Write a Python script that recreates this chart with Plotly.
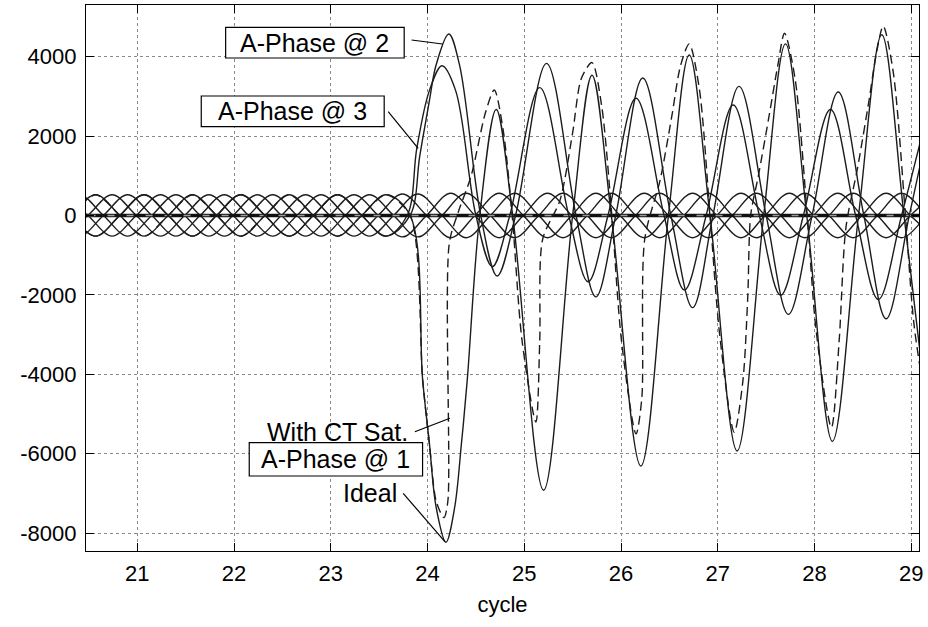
import plotly.graph_objects as go

# ------------------------------------------------------------------
# Data (cycle, current in A)
# ------------------------------------------------------------------
x_ticks = [21, 22, 23, 24, 25, 26, 27, 28, 29]
y_ticks = [-8000, -6000, -4000, -2000, 0, 2000, 4000]
y_tick_labels = ["-8000", "-6000", "-4000", "-2000", "0", "2000", "4000"]

# pre-fault A-phase load current (key points: zeros and extremes)
t_A_pre = [20.32, 20.57, 20.82, 21.07, 21.32, 21.57, 21.82, 22.07, 22.32, 22.57,
           22.82, 23.07, 23.32, 23.57]
i_A23_pre = [0, -520, 0, 520, 0, -520, 0, 520, 0, -520, 0, 520, 0, -520]
i_A1_pre = [0, 520, 0, -520, 0, 520, 0, -520, 0, 520, 0, -520, 0, 520]

# B-phase (locations 2/3) and location 1 (opposite polarity)
t_B = [20.15, 20.40, 20.65, 20.90, 21.15, 21.40, 21.65, 21.90, 22.15, 22.40,
       22.65, 22.90, 23.15, 23.40, 23.65, 23.90, 24.15, 24.40, 24.65, 24.90,
       25.15, 25.40, 25.65, 25.90, 26.15, 26.40, 26.65, 26.90, 27.15, 27.40,
       27.65, 27.90, 28.15, 28.40, 28.65, 28.90, 29.15]
i_B23 = [0, 520, 0, -520, 0, 520, 0, -520, 0, 520, 0, -520, 0, 520, 0, -540,
         0, 560, 0, -560, 0, 560, 0, -560, 0, 560, 0, -560, 0, 560, 0, -560,
         0, 560, 0, -560, 0]
i_B1 = [0, -520, 0, 520, 0, -520, 0, 520, 0, -520, 0, 520, 0, -520, 0, 540,
        0, -560, 0, 560, 0, -560, 0, 560, 0, -560, 0, 560, 0, -560, 0, 560,
        0, -560, 0, 560, 0]

# C-phase
t_C = [20.24, 20.49, 20.74, 20.99, 21.24, 21.49, 21.74, 21.99, 22.24, 22.49,
       22.74, 22.99, 23.24, 23.49, 23.74, 23.99, 24.24, 24.49, 24.74, 24.99,
       25.24, 25.49, 25.74, 25.99, 26.24, 26.49, 26.74, 26.99, 27.24, 27.49,
       27.74, 27.99, 28.24, 28.49, 28.74, 28.99, 29.24]
i_C23 = [-520, 0, 520, 0, -520, 0, 520, 0, -520, 0, 520, 0, -520, 0, 540, 0,
         -560, 0, 560, 0, -560, 0, 560, 0, -560, 0, 560, 0, -560, 0, 560, 0,
         -560, 0, 560, 0, -560]
i_C1 = [520, 0, -520, 0, 520, 0, -520, 0, 520, 0, -520, 0, 520, 0, -540, 0,
        560, 0, -560, 0, 560, 0, -560, 0, 560, 0, -560, 0, 560, 0, -560, 0,
        560, 0, -560, 0, 560]

# residual / other quantities sitting on zero
t_zero = [20.3, 29.2]
i_zero = [0, 0]

# A-Phase @ 2 fault current
t_A2_fault = [23.82, 23.92, 24.02, 24.09, 24.22, 24.33, 24.55, 24.72, 24.91,
              25.23, 25.535, 25.74, 25.945, 26.225, 26.515, 26.74, 26.95,
              27.22, 27.50, 27.73, 27.975, 28.245, 28.51, 28.74, 28.98, 29.245]
i_A2_fault = [0, 1500, 2900, 3800, 4570, 3800, 0, -1525, 0,
              3830, 0, -2050, 0, 3460, 0, -2320, 0,
              3250, 0, -2490, 0, 3110, 0, -2600, 0, 3000]

# A-Phase @ 3 fault current
t_A3_fault = [23.79, 23.89, 24.02, 24.15, 24.29, 24.50, 24.67, 24.85, 25.16,
              25.46, 25.66, 25.865, 26.155, 26.445, 26.655, 26.88, 27.16,
              27.43, 27.65, 27.885, 28.165, 28.425, 28.66, 28.90, 29.17]
i_A3_fault = [0, 1700, 3150, 3770, 3150, 0, -1290, 0, 3220,
              0, -1670, 0, 2950, 0, -1880, 0, 2780,
              0, -2010, 0, 2670, 0, -2115, 0, 2600]

# A-Phase @ 1, ideal
t_A1_ideal = [23.82, 23.95, 24.02, 24.09, 24.19, 24.28, 24.35, 24.41, 24.54,
              24.71, 24.88, 25.20, 25.50, 25.70, 25.90, 26.205, 26.49, 26.705,
              26.92, 27.20, 27.475, 27.70, 27.92, 28.185, 28.455, 28.695,
              28.925, 29.19]
i_A1_ideal = [0, -4150, -5760, -7360, -8230, -7360, -5760, -4160, 0,
              2670, 0, -6920, 0, 3530, 0, -6310, 0, 4040,
              0, -5930, 0, 4320, 0, -5690, 0, 4550,
              0, -5500]

# A-Phase @ 1, with CT saturation
t_A1_sat = [23.82, 23.95, 24.02, 24.09, 24.17, 24.21, 24.225, 24.32, 24.45,
            24.60, 24.69, 24.78, 24.875, 24.975, 25.12, 25.16, 25.19, 25.37,
            25.50, 25.59, 25.70, 25.80, 25.905, 26.005, 26.155, 26.215, 26.245,
            26.405, 26.525, 26.615, 26.705, 26.81, 26.92, 27.02, 27.17, 27.26,
            27.31, 27.34, 27.42, 27.53, 27.62, 27.69, 27.80, 27.925, 28.015,
            28.175, 28.255, 28.325, 28.445, 28.565, 28.635, 28.71, 28.815,
            28.94, 29.03, 29.19]
i_A1_sat = [0, -4150, -5760, -7200, -7610, -7200, -700, 100, 990,
            2600, 3160, 2180, 0, -3110, -5200, -3150, -600, 390,
            2085, 3450, 3850, 2760, 0, -3160, -5500, -4600, -600,
            900, 2500, 3770, 4320, 3180, 0, -3010, -5460, -4160,
            -2050, 0, 1000, 2500, 3770, 4590, 3430, 0, -2860,
            -5340, -3150, -300, 1200, 2920, 4020, 4770, 3590,
            0, -2780, -5300]

# ------------------------------------------------------------------
FONT = "Arial, Liberation Sans, sans-serif"
INK = "#1c1c1c"
LW = 1.4

fig = go.Figure()


def wave(t, v, dash="solid", width=LW, color=INK, smoothing=1.0):
    fig.add_trace(go.Scatter(
        x=t, y=v, mode="lines",
        line=dict(color=color, width=width, dash=dash, shape="spline",
                  smoothing=smoothing),
        hoverinfo="skip", showlegend=False))


# small balanced currents
wave(t_B, i_B23)
wave(t_B, i_B1)
wave(t_C, i_C23)
wave(t_C, i_C1)

# thick zero trace
fig.add_trace(go.Scatter(x=t_zero, y=i_zero, mode="lines",
                         line=dict(color="#111111", width=3.5),
                         hoverinfo="skip", showlegend=False))
fig.add_trace(go.Scatter(x=t_zero, y=i_zero, mode="lines",
                         line=dict(color="#9a9a9a", width=1.4, dash="7px,12px"),
                         hoverinfo="skip", showlegend=False))

# A-phase currents
wave(t_A_pre + t_A3_fault, i_A23_pre + i_A3_fault)
wave(t_A_pre + t_A2_fault, i_A23_pre + i_A2_fault)
wave(t_A_pre + t_A1_ideal, i_A1_pre + i_A1_ideal)
wave(t_A_pre + t_A1_sat, i_A1_pre + i_A1_sat, dash="9px,5px", smoothing=0.8)

# ------------------------------------------------------------------
# layout / plot area in pixels
L, R, T, B = 86, 919.3, 5, 551
W, H = 928, 627


def px(x):
    return (x - L) / (R - L)


def py(y):
    return (B - y) / (B - T)


shapes = []
annotations = []


def box_label(text, x0, x1, y0, y1):
    shapes.append(dict(type="rect", xref="paper", yref="paper",
                       x0=px(x0), x1=px(x1), y0=py(y1), y1=py(y0),
                       line=dict(color="black", width=1.2),
                       fillcolor="white", layer="above"))
    annotations.append(dict(text=text, xref="paper", yref="paper",
                            x=px((x0 + x1) / 2), y=py((y0 + y1) / 2),
                            xanchor="center", yanchor="middle",
                            showarrow=False,
                            font=dict(family=FONT, size=25, color="black")))


def plain_label(text, xr, yc):
    annotations.append(dict(text=text, xref="paper", yref="paper",
                            x=px(xr), y=py(yc), xanchor="right",
                            yanchor="middle", showarrow=False,
                            font=dict(family=FONT, size=25, color="black")))


def pointer(x0, y0, x1, y1):
    shapes.append(dict(type="line", xref="paper", yref="paper",
                       x0=px(x0), y0=py(y0), x1=px(x1), y1=py(y1),
                       line=dict(color="black", width=1.2), layer="above"))


box_label("A-Phase @ 2", 225.7, 404.3, 27.3, 58.0)
pointer(411.7, 40.0, 442.7, 44.0)
box_label("A-Phase @ 3", 201.3, 384.3, 96.0, 126.7)
pointer(388.3, 111.7, 418.3, 148.3)
plain_label("With CT Sat.", 410, 431.7)
pointer(415, 431.7, 450, 418.3)
box_label("A-Phase @ 1", 249.3, 422.7, 442.7, 476.0)
plain_label("Ideal", 399.3, 493.3)
pointer(403.3, 493.3, 445, 541.7)

axis_common = dict(
    showline=True, linecolor="black", linewidth=1.3, mirror="ticks",
    ticks="inside", ticklen=8, tickwidth=1, tickcolor="black",
    showgrid=True, gridcolor="#8a8a8a", gridwidth=1, griddash="dot",
    zeroline=False,
    tickfont=dict(family=FONT, size=22, color="black"),
)

fig.update_layout(
    width=W, height=H,
    margin=dict(l=L, r=W - R, t=T, b=H - B, pad=0),
    paper_bgcolor="white", plot_bgcolor="white",
    font=dict(family=FONT, color="black"),
    xaxis=dict(range=[20.47, 29.08], tickvals=x_ticks,
               title=dict(text="cycle", font=dict(family=FONT, size=22),
                          standoff=12),
               ticklabelstandoff=2,
               **axis_common),
    yaxis=dict(range=[-8450, 5300], tickvals=y_ticks, ticktext=y_tick_labels,
               ticklabelstandoff=4,
               **axis_common),
    shapes=shapes,
    annotations=annotations,
)

fig.write_html("out.html",
               config={"displayModeBar": False},
               post_script="document.body.style.margin='0';"
                           "document.body.style.padding='0';")
